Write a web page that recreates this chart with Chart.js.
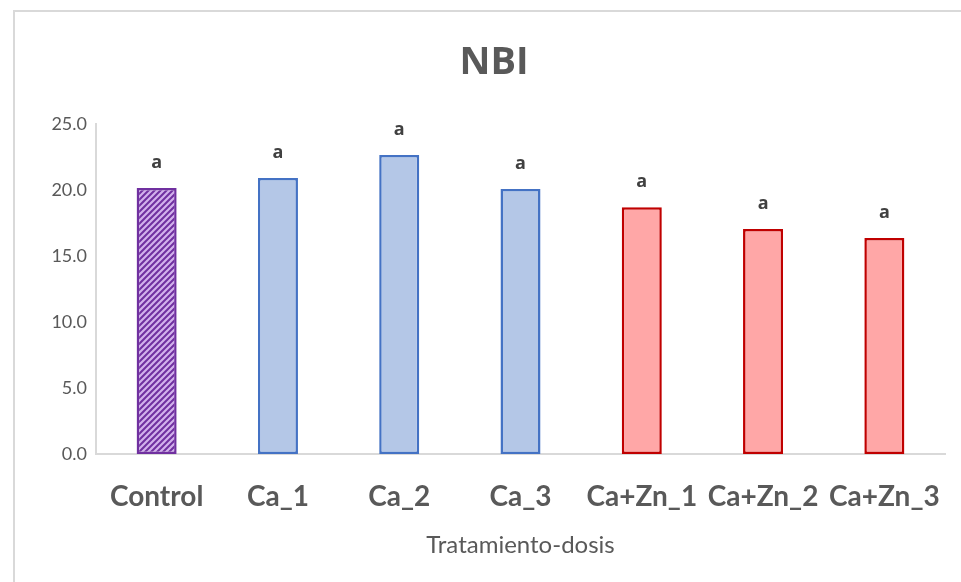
<!DOCTYPE html>
<html>
<head>
<meta charset="utf-8">
<script src="https://cdn.jsdelivr.net/npm/chart.js@4/dist/chart.umd.min.js"></script>
<style>
  html, body { margin: 0; padding: 0; background: #ffffff; }
  #wrap { width: 961px; height: 582px; position: relative; }
</style>
</head>
<body>
<div id="wrap"><canvas id="c" width="961" height="582"></canvas></div>
<script>
// NBI per treatment / dose
const categories = ['Control', 'Ca_1', 'Ca_2', 'Ca_3', 'Ca+Zn_1', 'Ca+Zn_2', 'Ca+Zn_3'];
const nbiValues = [20.15, 20.9, 22.65, 20.08, 18.7, 17.05, 16.36];
const groupLetters = ['a', 'a', 'a', 'a', 'a', 'a', 'a'];
const yTicks = [0, 5, 10, 15, 20, 25];

// Diagonal hatch fill for the control bar
function hatchPattern() {
  const p = document.createElement('canvas');
  p.width = 6; p.height = 6;
  const g = p.getContext('2d');
  g.fillStyle = '#7030A0';
  g.fillRect(0, 0, 6, 6);
  g.strokeStyle = '#D2B1EC';
  g.lineWidth = 2.2;
  g.beginPath();
  g.moveTo(-1, 7); g.lineTo(7, -1);
  g.moveTo(-4, 4); g.lineTo(4, -4);
  g.moveTo(2, 10); g.lineTo(10, 2);
  g.stroke();
  return document.getElementById('c').getContext('2d').createPattern(p, 'repeat');
}

const fills = [hatchPattern(), '#B4C7E7', '#B4C7E7', '#B4C7E7', '#FFA7A7', '#FFA7A7', '#FFA7A7'];
const borders = ['#7030A0', '#4472C4', '#4472C4', '#4472C4', '#C00000', '#C00000', '#C00000'];

// Outer frame, title and the letter above each bar
const decor = {
  id: 'decor',
  beforeDraw(chart) {
    const ctx = chart.ctx;
    ctx.save();
    ctx.fillStyle = '#ffffff';
    ctx.fillRect(0, 0, chart.width, chart.height);
    ctx.strokeStyle = '#D9D9D9';
    ctx.lineWidth = 2;
    ctx.beginPath();
    ctx.moveTo(14, chart.height);
    ctx.lineTo(14, 11);
    ctx.lineTo(chart.width, 11);
    ctx.stroke();
    ctx.restore();
  },
  afterDatasetsDraw(chart) {
    const ctx = chart.ctx;
    ctx.save();
    ctx.fillStyle = '#595959';
    ctx.font = 'bold 38px "Open Sans", sans-serif';
    ctx.textAlign = 'center';
    ctx.textBaseline = 'middle';
    ctx.fillText('NBI', 494, 63);
    const meta = chart.getDatasetMeta(0);
    ctx.fillStyle = '#404040';
    ctx.font = 'bold 18px "Open Sans", sans-serif';
    meta.data.forEach((bar, i) => {
      ctx.fillText(groupLetters[i], bar.x, bar.y - 25);
    });
    ctx.restore();
  }
};

new Chart(document.getElementById('c'), {
  type: 'bar',
  data: {
    labels: categories,
    datasets: [{
      data: nbiValues,
      backgroundColor: fills,
      borderColor: borders,
      borderWidth: 2.5,
      borderSkipped: false,
      categoryPercentage: 1,
      barPercentage: 0.33
    }]
  },
  options: {
    responsive: false,
    animation: false,
    devicePixelRatio: 1,
    layout: { padding: { top: 124, right: 16, bottom: 22, left: 10 } },
    plugins: {
      legend: { display: false },
      title: { display: false },
      tooltip: { enabled: false }
    },
    scales: {
      x: {
        grid: { display: false, drawTicks: false },
        border: { color: '#D9D9D9', width: 2 },
        ticks: {
          color: '#595959',
          font: { family: 'Lato', weight: 'bold', size: 28 },
          padding: 26,
          maxRotation: 0,
          autoSkip: false
        },
        title: {
          display: true,
          text: 'Tratamiento-dosis',
          color: '#595959',
          font: { family: 'Lato', size: 24 },
          padding: { top: 2, bottom: 0 }
        },
        afterFit(s) {
          s.height = 582 - 454 - 22;
          s.paddingLeft = 0;
          s.paddingRight = 0;
        }
      },
      y: {
        min: 0,
        max: 25,
        grid: { display: false, drawTicks: false },
        border: { color: '#D9D9D9', width: 2 },
        afterBuildTicks(s) { s.ticks = yTicks.map(v => ({ value: v })); },
        ticks: {
          color: '#595959',
          font: { family: 'Lato', size: 18 },
          padding: 9,
          callback: v => Number(v).toFixed(1)
        },
        afterFit(s) { s.width = 86; }
      }
    }
  },
  plugins: [decor]
});
</script>
</body>
</html>
